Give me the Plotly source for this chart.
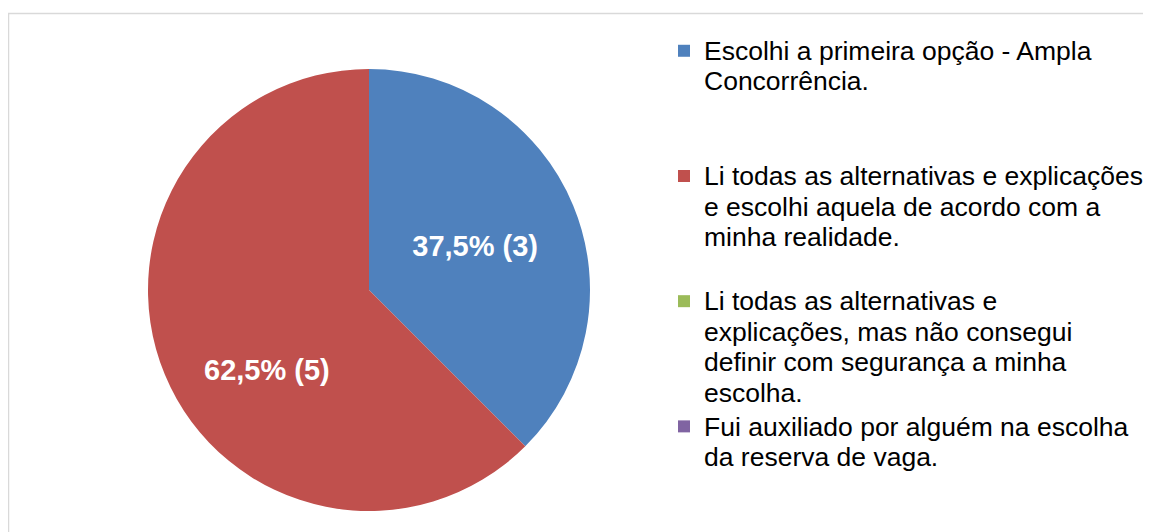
import plotly.graph_objects as go

# legend label lines (as wrapped in the reference)
category_lines = [
    ["Escolhi a primeira opção - Ampla", "Concorrência."],
    ["Li todas as alternativas e explicações", "e escolhi aquela de acordo com a", "minha realidade."],
    ["Li todas as alternativas e", "explicações, mas não consegui", "definir com segurança a minha", "escolha."],
    ["Fui auxiliado por alguém na escolha", "da reserva de vaga."],
]
values = [3, 5, 0, 0]
colors = ["#4F81BD", "#C0504D", "#9BBB59", "#8064A2"]

# build legend labels: larger glyphs on a tight line pitch, each entry 4 lines tall
legend_labels = []
for lines in category_lines:
    parts = [f'<span style="font-size:26.5px">{ln}</span>' for ln in lines]
    parts += [" "] * (4 - len(lines))
    legend_labels.append("<br>".join(parts))

# data labels; the larger slice's label sits lower in the reference
label_fmt = "%{percent:.1%} (%{value})"
texttemplates = []
for i, v in enumerate(values):
    if v <= 0:
        texttemplates.append("")
    elif i == 1:
        texttemplates.append("\u00a0<br>\u00a0<br>" + label_fmt)
    else:
        texttemplates.append(label_fmt)

fig = go.Figure(
    go.Pie(
        labels=legend_labels,
        values=values,
        sort=False,
        direction="clockwise",
        rotation=0,
        marker=dict(colors=colors, line=dict(width=0)),
        texttemplate=texttemplates,
        textposition="inside",
        insidetextorientation="horizontal",
        textfont=dict(family="Arial, Liberation Sans, sans-serif", size=29, color="white", weight="bold"),
        domain=dict(x=[140 / 1151, 582 / 1151], y=[29 / 532, 471 / 532]),
        hoverinfo="value+percent",
    )
)

fig.update_layout(
    width=1151,
    height=532,
    margin=dict(l=0, r=0, t=0, b=0),
    paper_bgcolor="white",
    separators=",.",
    showlegend=True,
    legend=dict(
        x=656 / 1151,
        y=1 - 29 / 532,
        xanchor="left",
        yanchor="top",
        valign="top",
        itemwidth=30,
        font=dict(family="Arial, Liberation Sans, sans-serif", size=23.5, color="black"),
        bgcolor="rgba(0,0,0,0)",
    ),
    shapes=[
        dict(
            type="rect",
            xref="paper",
            yref="paper",
            x0=0.5 / 1151,
            x1=1.05,
            y0=-0.05,
            y1=1 - 5.5 / 532,
            line=dict(color="#D9D9D9", width=1.5),
            fillcolor="rgba(0,0,0,0)",
            layer="below",
        )
    ],
)

fig.write_html("out.html")
